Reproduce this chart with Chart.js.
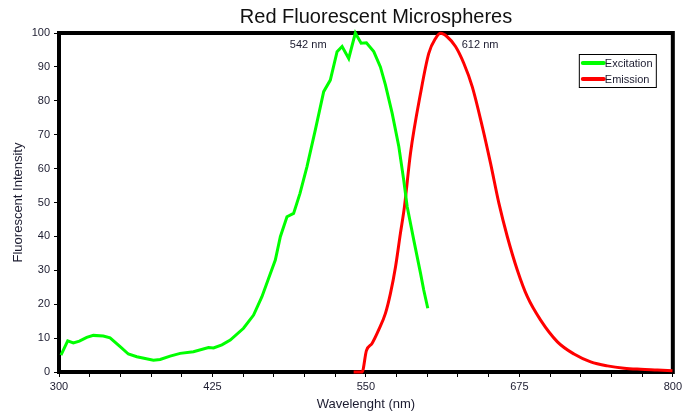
<!DOCTYPE html>
<html>
<head>
<meta charset="utf-8">
<script src="https://cdn.jsdelivr.net/npm/chart.js@4"></script>
<style>
  html, body { margin: 0; padding: 0; background: #fff; }
  #wrap { width: 685px; height: 418px; }
</style>
</head>
<body>
<div id="wrap"><canvas id="c" width="685" height="418"></canvas></div>
<script>
// ---- Data ----
const chartTitle = "Red Fluorescent Microspheres";
const xAxisTitle = "Wavelenght (nm)";
const yAxisTitle = "Fluorescent Intensity";
const seriesNames = ["Excitation", "Emission"];

const excitationX = [301.6, 307.1, 311.7, 316.6, 322.6, 328, 336.1, 341.6, 349.8, 356.5, 363.4, 376.9, 382.4, 390.5, 398.7, 409.5, 421.8, 425.9, 432.7, 439.5, 450.3, 458.5, 465.3, 470.7, 476.2, 480.3, 485.7, 491.1, 496.3, 502, 508.8, 515.6, 521, 526.5, 530.6, 536, 541.4, 546.1, 550.4, 556.4, 561.8, 565.9, 571.4, 576.8, 580.8, 583.6, 589, 594.5, 597.1, 600.4];
const excitationY = [5, 9.2, 8.6, 9.1, 10.2, 10.8, 10.6, 10.1, 7.5, 5.3, 4.5, 3.5, 3.7, 4.7, 5.5, 6, 7.2, 7.1, 8, 9.4, 12.9, 16.8, 22.2, 27.6, 33, 39.9, 45.8, 46.8, 52.7, 60.6, 71.4, 82.7, 86.1, 94.5, 96, 92.5, 100, 97, 97.1, 94.5, 90, 84.7, 76.3, 66.5, 56.6, 48.8, 38.9, 29.1, 24.2, 18.8];

const emissionX = [540, 546.9, 550.4, 555.1, 560.4, 565.9, 570, 574.1, 578.1, 581.4, 586.3, 594.5, 601.2, 606.7, 610.8, 616.2, 623, 629.8, 636.6, 644.8, 651.5, 658.3, 665.2, 673.3, 681.5, 692.3, 706, 719.5, 733.1, 746.7, 760.3, 773.9, 787.5, 799.7];
const emissionY = [0, 0, 6.3, 8.5, 12.4, 17.3, 23.2, 31, 40.9, 48.8, 64.5, 82.2, 94, 98.4, 99.9, 98.9, 96, 91, 84.2, 72.4, 61.6, 49.8, 39.9, 30.1, 22.2, 15.3, 8.9, 5.3, 3, 1.8, 1.1, 0.8, 0.6, 0.4];

const peakLabels = ["542 nm", "612 nm"];
const peakLabelX = [503, 643];   // label centre, in nm
const peakLabelY = [96.5, 96.5]; // label centre, in intensity units

const xTickLabels = [300, 425, 550, 675, 800];

// ---- Build ----
const toPoints = (xs, ys) => xs.map((x, i) => ({ x: x, y: ys[i] }));
const FONT = "'Liberation Sans', Arial, sans-serif";
const TEXT = "#1c1c30";

const decor = {
  id: 'decor',
  beforeDatasetsDraw(chart) {
    const { ctx, chartArea: a } = chart;
    ctx.save();
    ctx.strokeStyle = '#000';
    ctx.lineWidth = 4;
    ctx.strokeRect(a.left, a.top, a.right - a.left, a.bottom - a.top);
    ctx.restore();
  },
  afterDatasetsDraw(chart) {
    const { ctx, chartArea: a, scales } = chart;
    ctx.save();
    // title
    ctx.font = "20px " + FONT;
    ctx.fillStyle = '#111';
    ctx.textAlign = 'center';
    ctx.textBaseline = 'alphabetic';
    ctx.fillText(chartTitle, 376, 23);
    // peak annotations
    ctx.font = "11px " + FONT;
    ctx.fillStyle = TEXT;
    ctx.textBaseline = 'middle';
    peakLabels.forEach((t, i) => {
      ctx.fillText(t, scales.x.getPixelForValue(peakLabelX[i]), scales.y.getPixelForValue(peakLabelY[i]));
    });
    // legend box
    const lx = a.right - 94, ly = a.top + 21, lw = 77, lh = 33;
    ctx.fillStyle = '#fff';
    ctx.fillRect(lx, ly, lw, lh);
    ctx.lineWidth = 1;
    ctx.strokeStyle = '#000';
    ctx.strokeRect(lx + 0.5, ly + 0.5, lw, lh);
    chart.data.datasets.forEach((ds, i) => {
      const yy = ly + 9 + i * 16;
      ctx.strokeStyle = ds.borderColor;
      ctx.lineWidth = 4;
      ctx.lineCap = 'round';
      ctx.beginPath();
      ctx.moveTo(lx + 4, yy);
      ctx.lineTo(lx + 25, yy);
      ctx.stroke();
      ctx.fillStyle = TEXT;
      ctx.textAlign = 'left';
      ctx.fillText(ds.label, lx + 26, yy + 0.5);
    });
    ctx.restore();
  }
};

new Chart(document.getElementById('c'), {
  type: 'line',
  data: {
    datasets: [
      { label: seriesNames[0], data: toPoints(excitationX, excitationY), borderColor: '#00ff00', borderWidth: 3, pointRadius: 0, tension: 0, fill: false, clip: 6 },
      { label: seriesNames[1], data: toPoints(emissionX, emissionY), borderColor: '#ff0000', borderWidth: 3, pointRadius: 0, cubicInterpolationMode: 'monotone', fill: false, clip: 6 }
    ]
  },
  options: {
    responsive: false,
    animation: false,
    layout: { padding: { left: 0, right: 6, top: 33, bottom: 0 } },
    plugins: {
      legend: { display: false },
      tooltip: { enabled: false },
      title: { display: false }
    },
    scales: {
      x: {
        type: 'linear', min: 300, max: 800,
        afterFit(s) { s.height = 46; },
        ticks: {
          stepSize: 25, autoSkip: false, maxRotation: 0, padding: 3,
          color: TEXT, font: { family: FONT, size: 11 },
          callback: v => xTickLabels.includes(v) ? String(v) : ''
        },
        grid: { drawOnChartArea: false, drawTicks: true, tickLength: 5, tickColor: '#000', tickWidth: 1 },
        border: { display: false },
        title: { display: true, text: xAxisTitle, color: TEXT, font: { family: FONT, size: 13 }, padding: { top: 0, bottom: 6 } }
      },
      y: {
        min: 0, max: 100,
        afterFit(s) { s.width = 59; },
        ticks: { stepSize: 10, padding: 4, color: TEXT, font: { family: FONT, size: 11 } },
        grid: { drawOnChartArea: false, drawTicks: true, tickLength: 5, tickColor: '#000', tickWidth: 1 },
        border: { display: false },
        title: { display: true, text: yAxisTitle, color: TEXT, font: { family: FONT, size: 13 }, padding: { top: 11, bottom: 0 } }
      }
    }
  },
  plugins: [decor]
});
</script>
</body>
</html>
